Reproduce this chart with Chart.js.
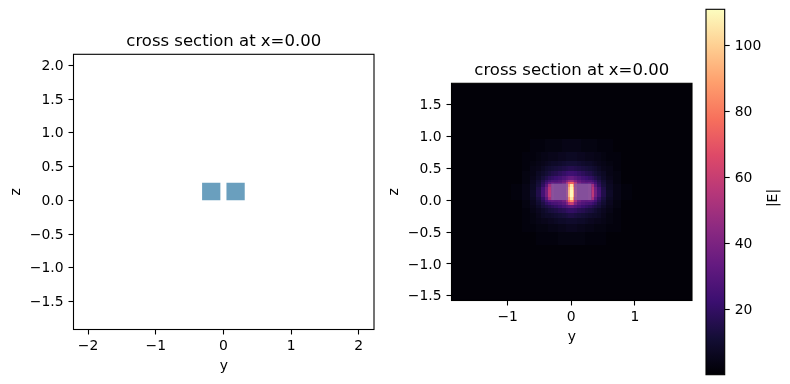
<!DOCTYPE html>
<html>
<head>
<meta charset="utf-8">
<script src="https://cdn.jsdelivr.net/npm/chart.js@4"></script>
<style>
    body { margin: 0; background: #fff; }
    canvas { position: absolute; top: 0; }
</style>
</head>
<body>
<canvas id="chart-geometry" width="380" height="384" style="left:0"></canvas>
<canvas id="chart-field" width="320" height="384" style="left:380px"></canvas>
<canvas id="chart-colorbar" width="90" height="384" style="left:700px"></canvas>
<script>
const panelTitle = 'cross section at x=0.00';

// the two blocks, in data units
const blockY = [[-0.315, -0.045], [0.045, 0.315]];
const blockZ = [0, 0.26];

// ticks
const leftYTicks = [-2, -1, 0, 1, 2];
const leftZTicks = [-1.5, -1.0, -0.5, 0.0, 0.5, 1.0, 1.5, 2.0];
const rightYTicks = [-1, 0, 1];
const rightZTicks = [-1.5, -1.0, -0.5, 0.0, 0.5, 1.0, 1.5];
const colorbarTicks = [20, 40, 60, 80, 100];
const colorbarRange = [0.1, 111];

// |E|, non uniform cells. Everything outside is ~1
const fieldOutside = 1;
const fieldYEdges = [-0.95, -0.78, -0.65, -0.55, -0.47, -0.41, -0.36, -0.32, -0.27, -0.21, -0.15, -0.09, -0.05, -0.02,
    0.02, 0.05, 0.09, 0.15, 0.21, 0.27, 0.32, 0.36, 0.41, 0.47, 0.55, 0.65, 0.78, 0.95];
const fieldZEdges = [0.95, 0.75, 0.62, 0.53, 0.45, 0.38, 0.32, 0.29, 0.26, 0.21, 0.16, 0.10, 0.05, 0,
    -0.03, -0.07, -0.13, -0.20, -0.28, -0.38, -0.50, -0.70];
const fieldValues = [
    [1, 1, 2, 2, 2, 3, 3, 3, 3, 3, 4, 4, 4, 4, 4, 4, 4, 3, 3, 3, 3, 3, 2, 2, 2, 1, 1],
    [1, 2, 2, 3, 4, 4, 5, 5, 5, 6, 6, 7, 7, 7, 7, 7, 6, 6, 5, 5, 5, 4, 4, 3, 2, 2, 1],
    [1, 2, 3, 4, 5, 6, 7, 8, 8, 9, 10, 11, 11, 11, 11, 11, 10, 9, 8, 8, 7, 6, 5, 4, 3, 2, 1],
    [1, 2, 4, 5, 7, 9, 10, 11, 12, 13, 14, 15, 16, 16, 16, 15, 14, 13, 12, 11, 10, 9, 7, 5, 4, 2, 1],
    [1, 3, 4, 7, 9, 11, 13, 15, 16, 18, 20, 22, 23, 23, 23, 22, 20, 18, 16, 15, 13, 11, 9, 7, 4, 3, 1],
    [1, 3, 5, 8, 12, 15, 18, 20, 22, 24, 27, 30, 33, 34, 33, 30, 27, 24, 22, 20, 18, 15, 12, 8, 5, 3, 1],
    [1, 3, 6, 10, 15, 20, 24, 27, 27, 29, 33, 40, 47, 50, 47, 40, 33, 29, 27, 27, 24, 20, 15, 10, 6, 3, 1],
    [1, 3, 6, 11, 17, 24, 32, 34, 32, 33, 38, 52, 70, 74, 70, 52, 38, 33, 32, 34, 32, 24, 17, 11, 6, 3, 1],
    [2, 4, 7, 12, 19, 30, 50, 46, 44, 44, 44, 50, 85, 105, 85, 50, 44, 44, 44, 46, 50, 30, 19, 12, 7, 4, 2],
    [2, 4, 7, 14, 24, 36, 55, 46, 44, 44, 44, 52, 92, 108, 92, 52, 44, 44, 44, 46, 55, 36, 24, 14, 7, 4, 2],
    [2, 4, 8, 15, 25, 37, 57, 46, 44, 44, 44, 54, 95, 110, 95, 54, 44, 44, 44, 46, 57, 37, 25, 15, 8, 4, 2],
    [2, 4, 8, 15, 25, 37, 57, 46, 44, 44, 44, 54, 95, 110, 95, 54, 44, 44, 44, 46, 57, 37, 25, 15, 8, 4, 2],
    [2, 4, 7, 13, 20, 31, 50, 46, 44, 44, 44, 50, 85, 105, 85, 50, 44, 44, 44, 46, 50, 31, 20, 13, 7, 4, 2],
    [1, 3, 6, 11, 17, 24, 30, 32, 31, 32, 37, 50, 75, 85, 75, 50, 37, 32, 31, 32, 30, 24, 17, 11, 6, 3, 1],
    [1, 3, 6, 10, 14, 19, 22, 25, 26, 28, 31, 40, 55, 60, 55, 40, 31, 28, 26, 25, 22, 19, 14, 10, 6, 3, 1],
    [1, 3, 5, 8, 12, 14, 16, 18, 20, 22, 25, 28, 30, 31, 30, 28, 25, 22, 20, 18, 16, 14, 12, 8, 5, 3, 1],
    [1, 2, 4, 6, 8, 10, 12, 13, 14, 16, 17, 19, 20, 20, 20, 19, 17, 16, 14, 13, 12, 10, 8, 6, 4, 2, 1],
    [1, 2, 3, 5, 7, 8, 8, 9, 10, 11, 12, 13, 14, 14, 14, 13, 12, 11, 10, 9, 8, 8, 7, 5, 3, 2, 1],
    [1, 2, 3, 4, 5, 5, 6, 6, 7, 8, 8, 9, 9, 9, 9, 9, 8, 8, 7, 6, 6, 5, 5, 4, 3, 2, 1],
    [1, 2, 2, 3, 3, 3, 4, 4, 4, 5, 5, 6, 6, 6, 6, 6, 5, 5, 4, 4, 4, 3, 3, 3, 2, 2, 1],
    [1, 1, 1, 2, 2, 2, 2, 2, 2, 3, 3, 3, 3, 3, 3, 3, 3, 3, 2, 2, 2, 2, 2, 2, 1, 1, 1]
];

const magma = ['#000004', '#140e36', '#3b0f70', '#641a80', '#8c2981', '#b73779', '#de4968', '#f7705c', '#fe9f6d', '#fecf92', '#fcfdbf'];
const fontName = '"DejaVu Sans"';
const tickFont = { family: fontName, size: 13.9 };
const ink = '#000';

function magmaColor(v) {
    const t = Math.min(Math.max((v - colorbarRange[0]) / (colorbarRange[1] - colorbarRange[0]), 0), 1) * (magma.length - 1);
    const i = Math.min(Math.floor(t), magma.length - 2);
    const a = parseInt(magma[i].slice(1), 16), b = parseInt(magma[i + 1].slice(1), 16);
    const mix = (s) => Math.round(((a >> s) & 255) * (1 - t + i) + ((b >> s) & 255) * (t - i));
    return 'rgb(' + mix(16) + ',' + mix(8) + ',' + mix(0) + ')';
}

function blockDatasets(color) {
    return blockY.map(function (b) {
        return {
            data: [{ x: b[0], y: blockZ[0] }, { x: b[1], y: blockZ[0] }, { x: b[1], y: blockZ[1] }, { x: b[0], y: blockZ[1] }],
            showLine: true,
            fill: 'shape',
            backgroundColor: color,
            borderColor: 'transparent',
            borderWidth: 0,
            pointRadius: 0
        };
    });
}

function tickFormat(digits) {
    return function (v) {
        return v.toFixed(digits).replace('-', '\u2212');
    };
}

function linearAxis(min, max, ticks, digits, size, label, labelPad) {
    const horizontal = size.height !== undefined;
    return {
        type: 'linear',
        min: min,
        max: max,
        border: { display: false },
        grid: { drawOnChartArea: false, color: '#000', tickColor: '#000', tickLength: 5, tickWidth: 1.1 },
        ticks: {
            color: ink,
            font: tickFont,
            padding: horizontal ? 4 : 5,
            labelOffset: horizontal ? 0 : 1,
            maxRotation: 0,
            minRotation: 0,
            callback: tickFormat(digits)
        },
        afterBuildTicks: function (s) { s.ticks = ticks.map(function (v) { return { value: v }; }); },
        afterFit: function (s) {
            if (horizontal) s.height = size.height; else s.width = size.width;
            // tick labels must not push the plot area around
            s.paddingTop = s.paddingBottom = s.paddingLeft = s.paddingRight = 0;
        },
        title: {
            display: true,
            text: label,
            color: ink,
            font: tickFont,
            padding: horizontal ? { top: 0, bottom: labelPad } : { top: labelPad, bottom: 0 }
        }
    };
}

// spines on all four sides
const framePlugin = {
    id: 'frame',
    afterDraw: function (chart) {
        const a = chart.chartArea, ctx = chart.ctx;
        ctx.save();
        ctx.strokeStyle = '#000';
        ctx.lineWidth = 1.1;
        ctx.strokeRect(a.left, a.top, a.right - a.left, a.bottom - a.top);
        ctx.restore();
    }
};

// paints the |E| cells through the chart's own scales
const fieldPlugin = {
    id: 'field',
    beforeDatasetsDraw: function (chart) {
        const a = chart.chartArea, ctx = chart.ctx, xs = chart.scales.x, ys = chart.scales.y;
        ctx.save();
        ctx.fillStyle = magmaColor(fieldOutside);
        ctx.fillRect(a.left, a.top, a.right - a.left, a.bottom - a.top);
        fieldValues.forEach(function (row, r) {
            const top = Math.round(ys.getPixelForValue(fieldZEdges[r]));
            const bottom = Math.round(ys.getPixelForValue(fieldZEdges[r + 1]));
            row.forEach(function (v, c) {
                const left = Math.round(xs.getPixelForValue(fieldYEdges[c]));
                const right = Math.round(xs.getPixelForValue(fieldYEdges[c + 1]));
                ctx.fillStyle = magmaColor(v);
                ctx.fillRect(left, top, right - left, bottom - top);
            });
        });
        ctx.restore();
    }
};

const colorbarLabelPlugin = {
    id: 'colorbarLabel',
    afterDraw: function (chart) {
        const ctx = chart.ctx;
        ctx.save();
        ctx.translate(73, 198);
        ctx.rotate(-Math.PI / 2);
        ctx.fillStyle = ink;
        ctx.font = '13.9px ' + fontName;
        ctx.textAlign = 'center';
        ctx.textBaseline = 'middle';
        ctx.fillText('|E|', 0, 0);
        ctx.restore();
    }
};

function panelTitleOptions(top) {
    return {
        display: true,
        text: panelTitle,
        color: '#000',
        fullSize: false,
        font: { family: fontName, size: 16.5, weight: 'normal', lineHeight: 1.2 },
        padding: { top: top, bottom: 2.5 }
    };
}

function DrawGeometry() {
    new Chart(document.getElementById('chart-geometry'), {
        type: 'scatter',
        data: { datasets: blockDatasets('#6a9fbe') },
        plugins: [framePlugin],
        options: {
            responsive: false,
            animation: false,
            layout: { autoPadding: false, padding: { left: 0, right: 6, top: 0, bottom: 0 } },
            plugins: { legend: { display: false }, tooltip: { enabled: false }, title: panelTitleOptions(32) },
            scales: {
                x: linearAxis(-2.215, 2.225, leftYTicks, 0, { height: 54.5 }, 'y', 9.6),
                y: linearAxis(-1.915, 2.165, leftZTicks, 1, { width: 73.5 }, 'z', 8)
            }
        }
    });
}

function DrawField() {
    new Chart(document.getElementById('chart-field'), {
        type: 'scatter',
        data: { datasets: blockDatasets('rgba(120, 160, 210, 0.33)') },
        plugins: [fieldPlugin, framePlugin],
        options: {
            responsive: false,
            animation: false,
            layout: { autoPadding: false, padding: { left: 0, right: 8, top: 0, bottom: 0 } },
            plugins: { legend: { display: false }, tooltip: { enabled: false }, title: panelTitleOptions(61) },
            scales: {
                x: linearAxis(-1.884, 1.9, rightYTicks, 0, { height: 83.5 }, 'y', 38.6),
                y: linearAxis(-1.573, 1.83, rightZTicks, 1, { width: 71.5 }, 'z', 6.5)
            }
        }
    });
}

function DrawColorbar() {
    const yAxis = linearAxis(colorbarRange[0], colorbarRange[1], colorbarTicks, 0, { width: 65.3 }, '', 0);
    yAxis.position = 'right';
    yAxis.title = { display: false };
    new Chart(document.getElementById('chart-colorbar'), {
        type: 'bar',
        data: {
            labels: ['|E|'],
            datasets: [{
                data: [colorbarRange],
                barPercentage: 1,
                categoryPercentage: 1,
                backgroundColor: function (context) {
                    const a = context.chart.chartArea;
                    if (!a) return magma[0];
                    const g = context.chart.ctx.createLinearGradient(0, a.bottom, 0, a.top);
                    magma.forEach(function (c, i) { g.addColorStop(i / (magma.length - 1), c); });
                    return g;
                }
            }]
        },
        plugins: [framePlugin, colorbarLabelPlugin],
        options: {
            responsive: false,
            animation: false,
            layout: { autoPadding: false, padding: { left: 6, right: 0, top: 9.3, bottom: 9.3 } },
            plugins: { legend: { display: false }, tooltip: { enabled: false } },
            scales: {
                x: { display: false },
                y: yAxis
            }
        }
    });
}

DrawGeometry();
DrawField();
DrawColorbar();
</script>
</body>
</html>
